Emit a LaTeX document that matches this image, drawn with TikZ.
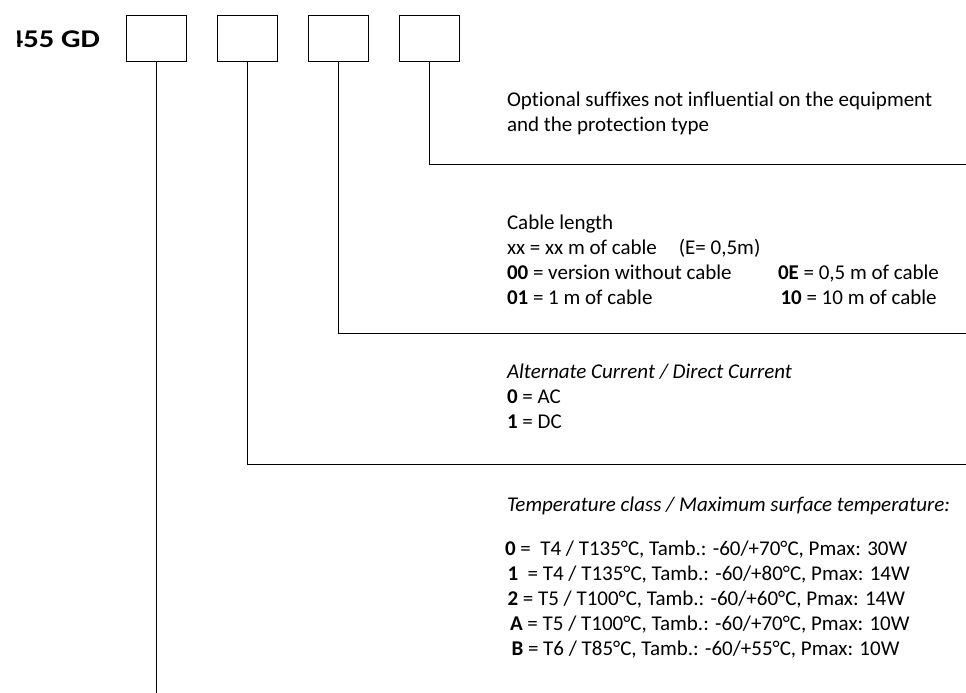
\documentclass[tikz,border=0pt]{standalone}
\usepackage{fontspec}
\setmainfont[Ligatures={NoCommon,NoContextual}]{Carlito}
\begin{document}
\begin{tikzpicture}[x=1pt,y=-1pt,
  digitbox/.style={draw,line width=1pt,minimum width=60pt,minimum height=46pt,inner sep=0pt,outer sep=0pt},
  leader/.style={line width=1pt},
  txt/.style={anchor=base west,inner sep=0pt,outer sep=0pt,font=\fontsize{21}{25}\selectfont},
  title/.style={anchor=base east,inner sep=0pt,outer sep=0pt,font=\fontsize{25.5}{30}\selectfont\bfseries}]
\useasboundingbox (0,0) rectangle (966,693);
% title
\begin{scope}
\clip (17,0) rectangle (120,60);
\node[title] (code) at (100,47.3) {\scalebox{1.2}[1]{455 GD}};
\end{scope}
% boxes
\node[digitbox] (b1) at (156,38.3) {};
\node[digitbox] (b2) at (247,38.3) {};
\node[digitbox] (b3) at (338.3,38.3) {};
\node[digitbox] (b4) at (429.7,38.3) {};
% leader ends
\coordinate (e4) at (966,164.7);
\coordinate (e3) at (966,333.3);
\coordinate (e2) at (966,464.3);
\coordinate (e1) at (156,693);
\draw[leader] (b4.south) |- (e4);
\draw[leader] (b3.south) |- (e3);
\draw[leader] (b2.south) |- (e2);
\draw[leader] (b1.south) -- (e1);
% block 1
\node[txt] (o1) at (507,106) {Optional suffixes not influential on the equipment};
\node[txt] (o2) at (507,131) {and the protection type};
% block 2
\node[txt] (c1) at (507,229) {Cable length};
\node[txt] (c2) at (507,254) {xx = xx m of cable\hspace{22pt}(E= 0,5m)};
\node[txt] (c3) at (507,279) {\textbf{00} = version without cable};
\node[txt] (c4) at (507,304) {\textbf{01} = 1 m of cable};
\node[txt] (c5) at (778,279) {\textbf{0E} = 0,5 m of cable};
\node[txt] (c6) at (780.5,304) {\textbf{10} = 10 m of cable};
% block 3
\node[txt] (a1) at (507,378) {\itshape Alternate Current / Direct Current};
\node[txt] (a2) at (507,403) {\textbf{0} = AC};
\node[txt] (a3) at (507,428) {\textbf{1} = DC};
% block 4
\node[txt] (t0) at (507,511) {\itshape Temperature class / Maximum surface temperature:};
\node[txt] (t1) at (505,555) {\textbf{0} =\ \ T4 / T135°C, Tamb.: -60/+70°C, Pmax: 30W};
\node[txt] (t2) at (507.5,580) {\textbf{1}\ \ = T4 / T135°C, Tamb.: -60/+80°C, Pmax: 14W};
\node[txt] (t3) at (507.5,605) {\textbf{2} = T5 / T100°C, Tamb.: -60/+60°C, Pmax: 14W};
\node[txt] (t4) at (510,630) {\textbf{A} = T5 / T100°C, Tamb.: -60/+70°C, Pmax: 10W};
\node[txt] (t5) at (511.5,655) {\textbf{B} = T6 / T85°C, Tamb.: -60/+55°C, Pmax: 10W};
\end{tikzpicture}
\end{document}
